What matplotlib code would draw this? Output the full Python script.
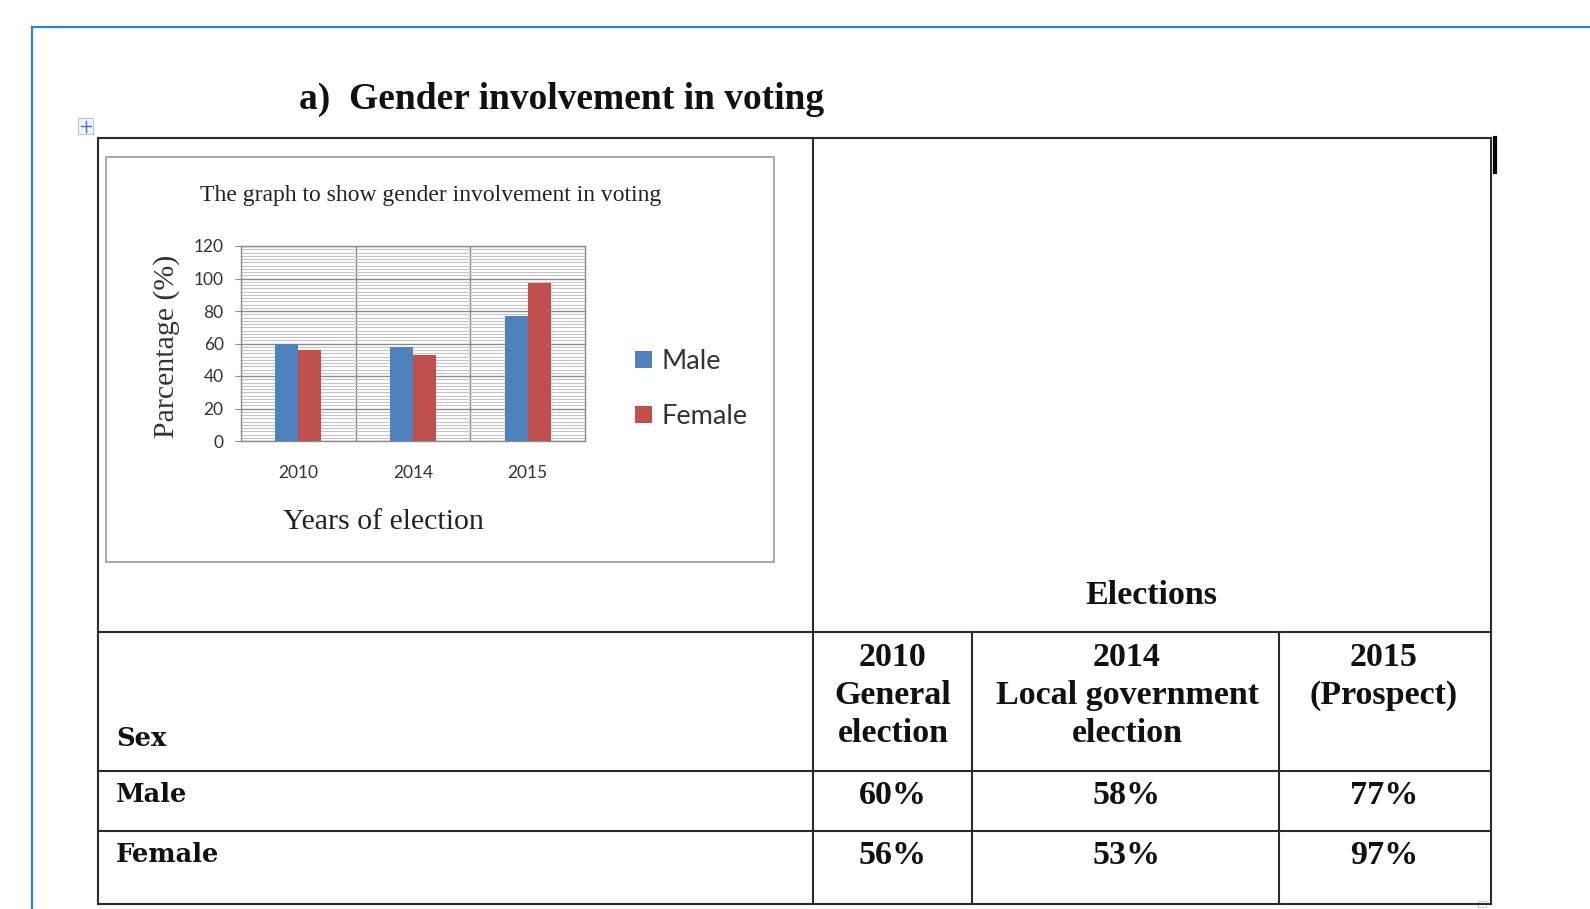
import numpy as np
import matplotlib.pyplot as plt
from matplotlib.patches import Rectangle

# data
years = ['2010', '2014', '2015']
male = [60, 58, 77]
female = [56, 53, 97]
headers = ['2010\nGeneral\nelection', '2014\nLocal government\nelection', '2015\n(Prospect)']
row_names = ['Male', 'Female']

W, H = 1590, 909
fig = plt.figure(figsize=(W / 100, H / 100), dpi=100)
fig.patch.set_facecolor('white')

# page layer in pixel coordinates
bg = fig.add_axes([0, 0, 1, 1])
bg.set_xlim(0, W)
bg.set_ylim(H, 0)
bg.axis('off')

# blue frame of the page
blue = '#2a85d8'
bg.plot([32, W], [27, 27], color=blue, lw=1.6)
bg.plot([32, 32], [27, H], color=blue, lw=1.6)

# table move handle
bg.add_patch(Rectangle((78, 118), 15, 16, fc='#f4f6fa', ec='#b8c4d8', lw=0.8))
bg.plot([80.5, 90.5], [126, 126], color='#3a6fc8', lw=1.0)
bg.plot([85.5, 85.5], [120.5, 131.5], color='#3a6fc8', lw=1.0)

# title
bg.text(299, 99, 'a)  Gender involvement in voting', fontsize=27, fontweight='bold',
        family='Liberation Serif', va='center', ha='left', color='#111111')

# table grid
lc = '#2b2b2b'
lw = 1.5
L, R, T, B = 98, 1491, 138, 904
for y in [T, 632, 771, 831, B]:
    bg.plot([L, R], [y, y], color=lc, lw=lw)
for x in [L, 813, R]:
    bg.plot([x, x], [T, B], color=lc, lw=lw)
col_x = [972, 1279]
for x in col_x:
    bg.plot([x, x], [632, B], color=lc, lw=lw)
bg.plot([1495, 1495], [138, 172], color='black', lw=3)
bg.add_patch(Rectangle((1478, 901), 8, 6, fc='white', ec='#c8c8c8', lw=0.8))

# table text
cell_font = dict(family='Liberation Serif', fontweight='bold', fontsize=24.5, color='#111111')
row_font = dict(family='DejaVu Serif', fontweight='bold', fontsize=18.5, color='#111111')
centers = [893, 1127, 1384]
bg.text(1151, 596, 'Elections', ha='center', va='center', **cell_font)
for cx, h in zip(centers, headers):
    for i, line in enumerate(h.split('\n')):
        bg.text(cx, 658 + i * 37.5, line, ha='center', va='center', **cell_font)
bg.text(116, 738, 'Sex', ha='left', va='center', **row_font)
for yy, name, vals in zip([795, 855], row_names, [male, female]):
    bg.text(116, yy, name, ha='left', va='center', **row_font)
    for cx, v in zip(centers, vals):
        bg.text(cx, yy, f'{v}%', ha='center', va='center', **cell_font)

# embedded chart box
bg.add_patch(Rectangle((106, 157), 668, 405, fc='white', ec='#9a9a9a', lw=1.2))
bg.text(431, 196, 'The graph to show gender involvement in voting', ha='center', va='center',
        family='Liberation Serif', fontsize=17, color='#222222')
bg.text(383, 522, 'Years of election', ha='center', va='center',
        family='Liberation Serif', fontsize=21.5, color='#222222')
bg.text(167, 346, 'Parcentage (%)', ha='center', va='center', rotation=90,
        family='Liberation Serif', fontsize=21.5, color='#333333')

# bar chart
ax = fig.add_axes([241 / W, 1 - 441 / H, 344 / W, 195 / H])
x = np.arange(len(years))
bw = 0.2
b1 = ax.bar(x - bw / 2, male, bw, color='#4f81bd', label='Male', zorder=3)
b2 = ax.bar(x + bw / 2, female, bw, color='#c0504d', label='Female', zorder=3)
ax.set_xlim(-0.5, len(years) - 0.5)
ax.set_ylim(0, 120)
ax.set_yticks(np.arange(0, 121, 20))
ax.set_yticks(np.arange(0, 121, 2), minor=True)
ax.grid(which='minor', axis='y', color='#c4c4c4', lw=0.8, zorder=0)
ax.grid(which='major', axis='y', color='#8c8c8c', lw=1.0, zorder=1)
for xb in x[:-1] + 0.5:
    ax.axvline(xb, color='#808080', lw=1.0, zorder=1)
ax.set_xticks(x)
ax.set_xticklabels(years)
for s in ax.spines.values():
    s.set_color('#8c8c8c')
    s.set_linewidth(1.0)
ax.tick_params(axis='x', length=0, pad=17, labelsize=12.5, labelcolor='#333333')
ax.tick_params(axis='y', which='major', length=4, color='#8c8c8c', pad=8.5,
               labelsize=12.5, labelcolor='#333333')
ax.tick_params(axis='y', which='minor', length=0)
for lab in ax.get_xticklabels() + ax.get_yticklabels():
    lab.set_family('Lato')

fig.legend(handles=[b1, b2], loc='center left', bbox_to_anchor=(611 / W, 1 - 389 / H),
           frameon=False, prop={'family': 'Lato', 'size': 19.5}, handlelength=0.6,
           handleheight=0.6, handletextpad=0.35, labelspacing=1.1, labelcolor='#333333')

fig.savefig('out.png', dpi=100)
